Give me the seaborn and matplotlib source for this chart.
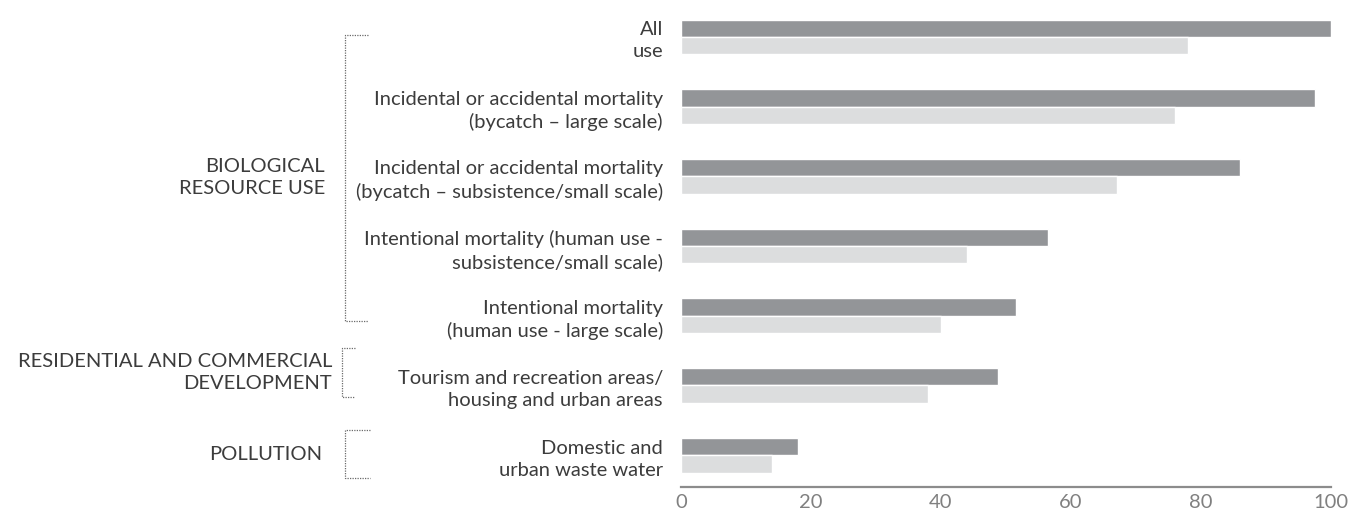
import matplotlib
matplotlib.use('Agg')
import matplotlib.pyplot as plt
import matplotlib.transforms as mtransforms
import pandas as pd
import seaborn as sns

# -----------------------------
# DATA
# -----------------------------
categories = [
    "All\nuse",
    "Incidental or accidental mortality\n(bycatch \u2013 large scale)",
    "Incidental or accidental mortality\n(bycatch \u2013 subsistence/small scale)",
    "Intentional mortality (human use -\nsubsistence/small scale)",
    "Intentional mortality\n(human use - large scale)",
    "Tourism and recreation areas/\nhousing and urban areas",
    "Domestic and\nurban waste water",
]
series_names = ["dark", "light"]
dark_values = [100, 97.5, 86, 56.5, 51.5, 48.7, 18]
light_values = [78, 76, 67, 44, 40, 38, 14]

group_labels = ["BIOLOGICAL\nRESOURCE USE",
                "RESIDENTIAL AND COMMERCIAL\nDEVELOPMENT",
                "POLLUTION"]

x_ticks = [0, 20, 40, 60, 80, 100]

df = pd.DataFrame({
    "category": categories * 2,
    "series": [series_names[0]] * len(categories) + [series_names[1]] * len(categories),
    "value": dark_values + light_values,
})

# -----------------------------
# STYLE
# -----------------------------
sns.set_style("white")
plt.rcParams['font.family'] = ['Lato', 'DejaVu Sans']
TEXT = "#3c3c3c"
FS = 14.5
palette = {"dark": "#939598", "light": "#dcddde"}

fig = plt.figure(figsize=(13.6, 5.12), dpi=100)
ax = fig.add_axes([681 / 1360, 25 / 512, 650 / 1360, 487 / 512])

sns.barplot(data=df, y="category", x="value", hue="series", orient="h",
            palette=palette, width=0.5, saturation=1, legend=False, ax=ax)

ax.set_xlim(0, 100)
ax.set_ylim(6.457, -0.53)
ax.set_xticks(x_ticks)
ax.set_xticklabels([str(t) for t in x_ticks], fontsize=FS, color="#808080")
ax.tick_params(axis="x", length=0, pad=5)
ax.tick_params(axis="y", length=0, pad=13)
for lab in ax.get_yticklabels():
    lab.set_fontsize(FS)
    lab.set_color(TEXT)
    lab.set_linespacing(1.35)
ax.set_xlabel("")
ax.set_ylabel("")
for s in ["top", "right", "left"]:
    ax.spines[s].set_visible(False)
ax.spines["bottom"].set_visible(True)
ax.spines["bottom"].set_color("#8c8c8c")
ax.spines["bottom"].set_linewidth(1.6)
ax.spines["bottom"].set_zorder(5)

# -----------------------------
# GROUP BRACKETS AND LABELS
# -----------------------------
trans = mtransforms.blended_transform_factory(fig.transFigure, ax.transData)
bracket_x = [(345, 368), (342, 355), (345, 370)]
bracket_y = [(-0.03, 4.07), (4.46, 5.17), (5.64, 6.33)]
label_x = [325, 332, 322]
for (y0, y1), (bx0, bx1), lx, name in zip(bracket_y, bracket_x, label_x, group_labels):
    x0, x1 = bx0 / 1360, bx1 / 1360
    ax.plot([x1, x0, x0, x1], [y0, y0, y1, y1], transform=trans,
            color="#6a6a6a", lw=0.9, ls=(0, (1, 1)), clip_on=False)
    ax.text(lx / 1360, (y0 + y1) / 2, name, transform=trans, ha="right",
            va="center", fontsize=FS, color=TEXT, linespacing=1.35)

fig.savefig("out.png", dpi=100)
plt.close(fig)
